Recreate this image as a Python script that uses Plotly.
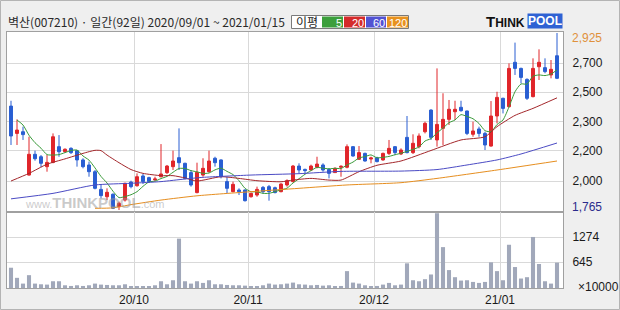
import plotly.graph_objects as go

# ---------------- data ----------------
NAME = "벽산"
CODE = "007210"
START = "2020/09/01"
END = "2021/01/15"

OPEN = [2446, 2267, 2278, 1994, 2130, 2114, 2049, 2077, 2180, 2147,
        2169, 2154, 2093, 2060, 2016, 1900, 1852, 1868, 1787, 1830,
        1948, 1924, 1988, 1977, 1962, 1983, 2010, 2049, 2108, 2071,
        2010, 1879, 1994, 2016, 2104, 2093, 1951, 1885, 1896, 1896,
        1852, 1863, 1913, 1918, 1911, 1885, 1929, 1951, 2053, 2031,
        2027, 2045, 2060, 2031, 2010, 2045, 2045, 2180, 2097, 2136,
        2099, 2108, 2093, 2136, 2180, 2132, 2241, 2141, 2180, 2278,
        2420, 2224, 2300, 2359, 2409, 2438, 2414, 2261, 2296, 2267,
        2184, 2381, 2497, 2442, 2733, 2693, 2621, 2508, 2704, 2698,
        2650, 2776]
HIGH = [2481, 2359, 2311, 2245, 2154, 2125, 2125, 2267, 2256, 2169,
        2176, 2158, 2104, 2082, 2027, 1929, 1907, 1874, 1820, 1944,
        1957, 2005, 2001, 1983, 1983, 2197, 2060, 2154, 2300, 2075,
        2027, 2075, 2104, 2154, 2114, 2097, 1983, 1951, 1907, 1900,
        1879, 1918, 1922, 1929, 1918, 1940, 1966, 2060, 2071, 2036,
        2062, 2114, 2071, 2038, 2045, 2058, 2195, 2184, 2184, 2141,
        2114, 2114, 2141, 2224, 2184, 2169, 2381, 2261, 2267, 2344,
        2425, 2693, 2530, 2486, 2481, 2481, 2416, 2344, 2311, 2278,
        2479, 2540, 2501, 2726, 2862, 2698, 2628, 2759, 2818, 2759,
        2748, 2925]
LOW = [2191, 2191, 2224, 1990, 2088, 2045, 2016, 2071, 2114, 2141,
       2132, 2049, 2038, 1983, 1900, 1841, 1830, 1771, 1765, 1820,
       1907, 1918, 1935, 1944, 1957, 1979, 2001, 2027, 2027, 1966,
       1918, 1874, 1983, 2010, 2049, 1972, 1874, 1881, 1863, 1820,
       1846, 1852, 1874, 1826, 1874, 1881, 1918, 1946, 2005, 2005,
       2023, 2038, 2016, 1972, 2010, 1983, 2038, 2114, 2093, 2082,
       2071, 2077, 2088, 2125, 2125, 2125, 2136, 2132, 2169, 2267,
       2224, 2180, 2191, 2322, 2355, 2409, 2256, 2245, 2245, 2158,
       2180, 2333, 2398, 2438, 2650, 2595, 2486, 2503, 2617, 2661,
       2628, 2623]
CLOSE = [2250, 2289, 2259, 2130, 2101, 2071, 2077, 2245, 2147, 2163,
         2141, 2093, 2049, 2016, 1907, 1859, 1881, 1776, 1809, 1940,
         1918, 1983, 1951, 1951, 1968, 2001, 2053, 2086, 2075, 1972,
         1929, 2012, 2038, 2086, 2075, 1983, 1907, 1933, 1885, 1826,
         1874, 1900, 1885, 1885, 1879, 1935, 1957, 2053, 2027, 2023,
         2053, 2066, 2027, 2005, 2038, 2051, 2180, 2119, 2141, 2086,
         2106, 2082, 2136, 2169, 2141, 2158, 2141, 2202, 2250, 2333,
         2241, 2326, 2359, 2425, 2425, 2416, 2267, 2283, 2267, 2191,
         2381, 2503, 2431, 2693, 2693, 2634, 2497, 2693, 2733, 2672,
         2687, 2628]
# volume, in units of 10,000 shares
VOLUME = [507, 254, 110, 321, 110, 93, 85, 169, 169, 68,
          51, 68, 51, 68, 110, 85, 76, 68, 68, 93,
          42, 42, 42, 34, 68, 169, 93, 194, 1234, 169,
          110, 169, 127, 194, 93, 93, 76, 68, 68, 59,
          42, 42, 68, 110, 85, 93, 110, 135, 93, 85,
          68, 76, 59, 68, 42, 51, 422, 135, 110, 68,
          42, 51, 85, 127, 68, 85, 617, 194, 169, 220,
          338, 1870, 1022, 448, 270, 186, 194, 152, 127, 152,
          642, 422, 194, 1081, 524, 237, 270, 1276, 600, 169,
          110, 634]

MA5 = [None, 2355, 2322, 2255, 2206, 2170, 2128, 2125, 2128, 2141,
       2155, 2158, 2119, 2092, 2041, 1985, 1942, 1888, 1846, 1853,
       1865, 1885, 1920, 1949, 1954, 1971, 1985, 2012, 2037, 2037,
       2023, 2015, 2005, 2007, 2028, 2039, 2018, 1997, 1957, 1907,
       1885, 1884, 1874, 1874, 1885, 1897, 1908, 1942, 1970, 1999,
       2023, 2044, 2039, 2035, 2038, 2037, 2060, 2079, 2106, 2115,
       2126, 2107, 2110, 2116, 2127, 2137, 2149, 2162, 2178, 2217,
       2233, 2270, 2302, 2337, 2355, 2390, 2378, 2363, 2332, 2285,
       2278, 2325, 2355, 2440, 2540, 2591, 2590, 2642, 2650, 2646,
       2656, 2683]
MA20_IDX = [0, 3, 6, 9, 12, 14, 15, 16, 18, 20, 22, 25, 27, 29, 31, 35, 38,
            41, 45, 47, 50, 53, 55, 58, 61, 65, 70, 75, 79, 81, 84, 87, 91]
MA20_VAL = [1955, 2005, 2065, 2100, 2136, 2156, 2154, 2125, 2075, 2030, 2005,
            1990, 1990, 1975, 1955, 1983, 1972, 1957, 1950, 1961, 1972, 1961,
            1961, 2016, 2058, 2086, 2155, 2224, 2245, 2311, 2385, 2431, 2500]
MA60_IDX = [0, 7, 14, 20, 25, 29, 32, 40, 48, 55, 65, 71, 76, 81, 85, 91]
MA60_VAL = [1838, 1874, 1929, 1940, 1951, 1968, 1979, 1994, 2003, 2018, 2020,
            2030, 2060, 2093, 2132, 2204]
MA120_IDX = [14, 17, 20, 25, 31, 40, 48, 56, 65, 71, 81, 91]
MA120_VAL = [1776, 1779, 1800, 1830, 1858, 1885, 1907, 1929, 1944, 1972, 2027,
             2086]

MA_PERIODS = [5, 20, 60, 120]

# first trading day of each month (index) and its label
MONTH_FIRST_IDX = [21, 40, 61, 82]
MONTH_LABELS = ["20/10", "20/11", "20/12", "21/01"]

# price grid lines and the (rounded) labels printed next to them
PRICE_GRID = [2728, 2538, 2342, 2152, 1955]
PRICE_LABELS = ["2,700", "2,500", "2,300", "2,200", "2,000"]
VOL_GRID = [645, 1274]
VOL_LABELS = ["645", "1274"]

# ---------------- styling ----------------
W, H = 620, 310
RED = "#e0262b"
BLUE = "#2a5fd2"
MA_COLORS = ["#3b9b3b", "#a3262a", "#4b4bc4", "#e68e1f"]
LEG_COLORS = ["#3c9f3c", "#d42b2b", "#5252d2", "#e8921e"]
VOL_COLOR = "#a1a8ba"
GRID = "#d9d9d9"
FRAME = "#a0a0a0"
NUMFONT = "Liberation Sans"
KRFONT = "Noto Sans CJK KR"


def px(x):
    return x / W


def py(y):
    return 1 - y / H


idx = list(range(len(CLOSE)))
month_grid = [i - 0.5 for i in MONTH_FIRST_IDX]
xr = [-0.667, len(CLOSE)]

fig = go.Figure()

fig.add_trace(go.Bar(x=idx, y=VOLUME, marker=dict(color=VOL_COLOR, line=dict(width=0)),
                     width=0.68, xaxis="x2", yaxis="y2", hoverinfo="skip",
                     showlegend=False))

fig.add_trace(go.Candlestick(
    x=idx, open=OPEN, high=HIGH, low=LOW, close=CLOSE,
    increasing=dict(line=dict(color=RED, width=1), fillcolor=RED),
    decreasing=dict(line=dict(color=BLUE, width=1), fillcolor=BLUE),
    whiskerwidth=0, xaxis="x", yaxis="y", hoverinfo="skip", showlegend=False))

ma_x = [idx, MA20_IDX, MA60_IDX, MA120_IDX]
ma_y = [MA5, MA20_VAL, MA60_VAL, MA120_VAL]
for xs, ys, col in zip(ma_x, ma_y, MA_COLORS):
    fig.add_trace(go.Scatter(x=xs, y=ys, mode="lines",
                             line=dict(color=col, width=1, shape="spline", smoothing=0.6),
                             xaxis="x", yaxis="y", hoverinfo="skip",
                             showlegend=False, connectgaps=False))

pmax = max(HIGH)
pmin = min(LOW)
price_range = [1751.8, 2931.6]

axis_common = dict(showline=True, mirror=True, linecolor=FRAME, linewidth=1,
                   gridcolor=GRID, gridwidth=1, zeroline=False, fixedrange=True)

fig.update_layout(
    width=W, height=H, autosize=False,
    margin=dict(l=0, r=0, t=0, b=0),
    paper_bgcolor="#efefef", plot_bgcolor="white",
    hovermode=False, showlegend=False, boxgap=0.3, bargap=0.3,
    xaxis=dict(domain=[px(7), px(563)], range=xr, anchor="y",
               tickvals=month_grid, showticklabels=False, ticks="",
               rangeslider=dict(visible=False), showgrid=True, **axis_common),
    yaxis=dict(domain=[py(212), py(32)], range=price_range, anchor="x",
               side="right", tickvals=PRICE_GRID, ticktext=PRICE_LABELS,
               ticks="outside", ticklen=6, tickcolor="rgba(0,0,0,0)",
               tickfont=dict(family=NUMFONT, size=12, color="#1a1a1a"),
               showgrid=True, **axis_common),
    xaxis2=dict(domain=[px(7), px(563)], range=xr, anchor="y2",
                tickvals=month_grid, ticktext=MONTH_LABELS, ticks="outside",
                ticklen=1, tickcolor="rgba(0,0,0,0)",
                tickfont=dict(family=NUMFONT, size=12, color="#1a1a1a"),
                showgrid=True, **axis_common),
    yaxis2=dict(domain=[py(288), py(212)], range=[0, 1900], anchor="x2",
                side="right", tickvals=VOL_GRID, ticktext=VOL_LABELS,
                ticks="outside", ticklen=6, tickcolor="rgba(0,0,0,0)",
                tickfont=dict(family=NUMFONT, size=12, color="#1a1a1a"),
                showgrid=True, **axis_common),
)

ann = []
shapes = []

# outer frame
shapes.append(dict(type="rect", xref="paper", yref="paper", x0=px(0.5), x1=px(619.5),
                   y0=py(309.5), y1=py(0.5), line=dict(color="#b4b4b4", width=1)))

# title
ann.append(dict(xref="paper", yref="paper", x=px(6), y=py(22), xanchor="left",
                yanchor="middle", showarrow=False,
                text=f"{NAME}({CODE}) · 일간({len(CLOSE)}일) {START} ~ {END}",
                font=dict(family=KRFONT, size=12, color="#2a2a2a")))

# moving-average legend
shapes.append(dict(type="rect", xref="paper", yref="paper", x0=px(291.5), x1=px(408.5),
                   y0=py(28.5), y1=py(15.5), fillcolor="white",
                   line=dict(color="#7a7a7a", width=1)))
ann.append(dict(xref="paper", yref="paper", x=px(307), y=py(22), xanchor="center",
                yanchor="middle", showarrow=False, text="이평",
                font=dict(family=KRFONT, size=12, color="#222")))
box_x = [(322, 343), (344, 365), (366, 386), (387, 408)]
for (a, b), col, per in zip(box_x, LEG_COLORS, MA_PERIODS):
    shapes.append(dict(type="rect", xref="paper", yref="paper", x0=px(a), x1=px(b),
                       y0=py(27.5), y1=py(16.5), fillcolor=col, line=dict(width=0)))
    ann.append(dict(xref="paper", yref="paper", x=px(b), y=py(22.5),
                    xanchor="right", yanchor="middle", showarrow=False,
                    borderpad=0, text=str(per),
                    font=dict(family=NUMFONT, size=11, color="white")))

# ThinkPool logo
ann.append(dict(xref="paper", yref="paper", x=px(527), y=py(21.5), xanchor="right",
                yanchor="middle", showarrow=False,
                text='<b><span style="font-size:15px">T</span>HINK</b>',
                font=dict(family=NUMFONT, size=12, color="#111")))
ann.append(dict(xref="paper", yref="paper", x=px(527), y=py(21.5), xanchor="left",
                yanchor="middle", showarrow=False, text="<b>POOL</b>",
                bgcolor="#2f62d4", borderpad=0,
                font=dict(family=NUMFONT, size=12, color="white")))

# watermark
ann.append(dict(xref="paper", yref="paper", x=px(23), y=py(203), xanchor="left",
                yanchor="middle", showarrow=False,
                text='<span style="font-size:11px">www.</span><b>THINKPOOL</b>'
                     '<span style="font-size:11px">.com</span>',
                font=dict(family=NUMFONT, size=15, color="rgba(150,150,150,0.5)")))

# max / min price labels
ann.append(dict(xref="paper", yref="y", x=px(570), y=pmax, yshift=-5,
                xanchor="left", yanchor="middle", showarrow=False,
                text=f"{pmax:,}", font=dict(family=NUMFONT, size=12, color="#e0913c")))
ann.append(dict(xref="paper", yref="y", x=px(570), y=pmin, yshift=3,
                xanchor="left", yanchor="middle", showarrow=False,
                text=f"{pmin:,}", font=dict(family=NUMFONT, size=12, color="#2b2b8c")))

# volume unit
ann.append(dict(xref="paper", yref="paper", x=px(576), y=py(287), xanchor="left",
                yanchor="middle", showarrow=False, text="×10000",
                font=dict(family=NUMFONT, size=12, color="#1a1a1a")))

fig.update_layout(annotations=ann, shapes=shapes)
fig.write_html("out.html")
